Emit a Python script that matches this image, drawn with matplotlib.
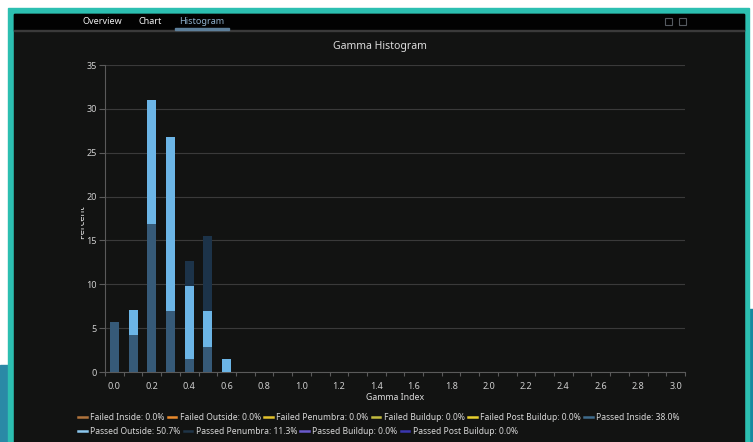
import numpy as np
import matplotlib
matplotlib.use('Agg')
import matplotlib.pyplot as plt
from matplotlib.patches import Rectangle
from matplotlib.lines import Line2D
from matplotlib.transforms import Bbox

plt.rcParams['font.family'] = ['Noto Sans', 'DejaVu Sans']

# histogram bins (gamma index) and stacked percents
gamma_bins = [0.0, 0.1, 0.2, 0.3, 0.4, 0.5, 0.6]
passed_inside = [5.7, 4.2, 16.9, 7.0, 1.5, 2.8, 0.0]
passed_outside = [0.0, 2.9, 14.1, 19.8, 8.3, 4.2, 1.5]
passed_penumbra = [0.0, 0.0, 0.0, 0.0, 2.9, 8.5, 0.0]

legend_names = ['Failed Inside', 'Failed Outside', 'Failed Penumbra', 'Failed Buildup',
                'Failed Post Buildup', 'Passed Inside', 'Passed Outside',
                'Passed Penumbra', 'Passed Buildup', 'Passed Post Buildup']
legend_pct = [0.0, 0.0, 0.0, 0.0, 0.0, 38.0, 50.7, 11.3, 0.0, 0.0]
legend_colors = ['#b0733c', '#e98a2c', '#e3c22c', '#c2bb3e', '#e8cf2e',
                 '#3f6b8c', '#8cc8ee', '#1f3447', '#6a5acd', '#3a36b0']

x_ticks = np.round(np.arange(0, 3.01, 0.2), 1)
y_ticks = np.arange(0, 36, 5)

W, H = 753, 442
fig = plt.figure(figsize=(W / 100, H / 100), dpi=100)
fig.patch.set_facecolor('white')


def box(x0, y0, x1, y1, color):
    fig.patches.append(Rectangle((x0 / W, 1 - y1 / H), (x1 - x0) / W, (y1 - y0) / H,
                                 transform=fig.transFigure, color=color, zorder=-10))


# window frame
box(0, 365, 8, H, '#2a89a6')
box(749, 309, W, H, '#168aa0')
box(8, 8, 749, H, '#2cbfb1')
box(14, 14, 744, H, '#121312')
box(14, 14, 744, 30, '#020202')
box(14, 30, 744, 31, '#3a3a3a')
box(175, 28, 229, 30, '#5d7f9a')

tab_y = 1 - 21 / H
fig.text(102 / W, tab_y, 'Overview', color='#f0f0f0', fontsize=6.5, ha='center',
         va='center', fontweight='medium')
fig.text(150 / W, tab_y, 'Chart', color='#f0f0f0', fontsize=6.5, ha='center',
         va='center', fontweight='medium')
fig.text(202 / W, tab_y, 'Histogram', color='#8fb0cc', fontsize=6.5, ha='center', va='center')
for ix in (665, 679):
    fig.patches.append(Rectangle((ix / W, 1 - 25 / H), 7 / W, 7 / H, transform=fig.transFigure,
                                 fill=False, edgecolor='#555a60', lw=0.8, zorder=1))

# plot area
ax = fig.add_axes([105 / W, 1 - 372 / H, 580 / W, 307 / H])
ax.set_facecolor('none')
ax.set_zorder(5)

bar_w = 0.048
ax.bar(gamma_bins, passed_inside, width=bar_w, color='#365a78', zorder=3)
ax.bar(gamma_bins, passed_outside, width=bar_w, bottom=passed_inside, color='#6cb5e6', zorder=3)
base = np.add(passed_inside, passed_outside)
ax.bar(gamma_bins, passed_penumbra, width=bar_w, bottom=base, color='#1c3349', zorder=3)

ax.set_xlim(-0.05, 3.05)
ax.set_ylim(0, 35)
ax.set_xticks(x_ticks)
ax.set_xticklabels([f'{v:.1f}' for v in x_ticks])
ax.set_xticks(np.arange(-0.05, 3.06, 0.1), minor=True)
ax.set_yticks(y_ticks)
ax.tick_params(axis='x', which='major', length=0, pad=7, labelsize=6.5, colors='#cfcfcf')
ax.tick_params(axis='x', which='minor', length=3, color='#5a5a5a', width=0.8)
ax.tick_params(axis='y', length=4, color='#5a5a5a', width=0.8, labelsize=6.5,
               colors='#cfcfcf', pad=2)
ax.grid(axis='y', color='#3a3a3a', lw=0.8, zorder=0)
for s in ['top', 'right']:
    ax.spines[s].set_visible(False)
for s in ['left', 'bottom']:
    ax.spines[s].set_color('#5a5a5a')
    ax.spines[s].set_linewidth(0.8)

fig.text(380 / W, 1 - 47 / H, 'Gamma Histogram', color='#dcdcdc', fontsize=7.5,
         ha='center', va='center')
fig.text(395 / W, 1 - 397 / H, 'Gamma Index', color='#dcdcdc', fontsize=6.3,
         ha='center', va='center')
ylab = fig.text(82 / W, 1 - 222 / H, 'Percent', color='#dcdcdc', fontsize=6.8,
                rotation=90, ha='center', va='center')
ylab.set_clip_box(Bbox.from_extents(81, 0, 200, H))

# legend, two packed rows
handles = [Line2D([], [], color=c, lw=1.8) for c in legend_colors]
labels = [f'{n}: {p:.1f}%' for n, p in zip(legend_names, legend_pct)]
rows = [(0, 6, 417), (6, 10, 431)]
for a, b, yy in rows:
    leg = fig.legend(handles[a:b], labels[a:b], ncol=b - a, loc='center left',
                     bbox_to_anchor=(78 / W, 1 - yy / H), frameon=False, fontsize=6.15,
                     handlelength=1.0, handletextpad=0.4, columnspacing=0.4,
                     borderpad=0, borderaxespad=0)
    for t in leg.get_texts():
        t.set_color('#d8d8d8')

fig.savefig('out.png', dpi=100, facecolor=fig.get_facecolor())
